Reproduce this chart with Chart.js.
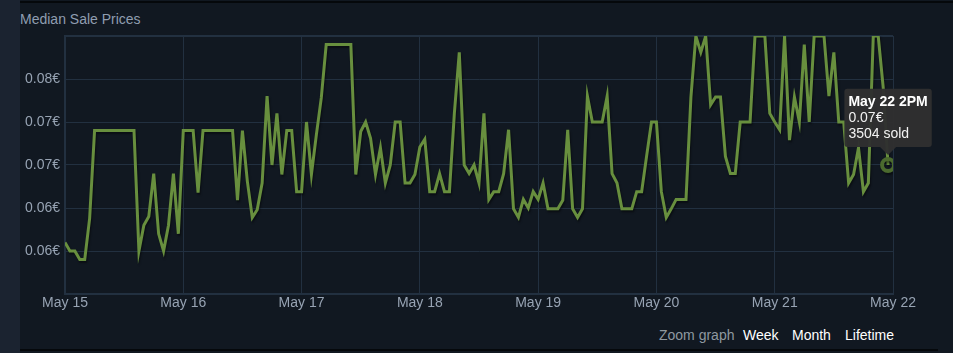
<!DOCTYPE html>
<html>
<head>
<meta charset="utf-8">
<script src="https://cdn.jsdelivr.net/npm/chart.js@4/dist/chart.umd.min.js"></script>
<style>
    html, body {
        margin: 0;
        padding: 0;
        width: 953px;
        height: 353px;
        overflow: hidden;
        background: #1b2330;
        font-family: "Liberation Sans", Arial, sans-serif;
    }
    #panel {
        position: absolute;
        left: 20px;
        top: 0;
        width: 933px;
        height: 353px;
        background: #111821;
    }
    #topLine {
        position: absolute;
        left: 20px;
        top: 1px;
        width: 933px;
        height: 2px;
        background: #05080b;
    }
    #bottomLine {
        position: absolute;
        left: 20px;
        top: 349px;
        width: 918px;
        height: 2px;
        background: #05080b;
    }
    #title {
        position: absolute;
        left: 20px;
        top: 11px;
        font-size: 14px;
        line-height: 16px;
        color: #8f9db0;
    }
    #chartBox {
        position: absolute;
        left: 0;
        top: 0;
        width: 953px;
        height: 322px;
    }
    .zoom {
        position: absolute;
        top: 327px;
        font-size: 14px;
        line-height: 16px;
        color: #ffffff;
    }
</style>
</head>
<body>
<div id="panel"></div>
<div id="topLine"></div>
<div id="bottomLine"></div>
<div id="title">Median Sale Prices</div>
<div id="chartBox"><canvas id="chartPrices" width="953" height="322"></canvas></div>
<span class="zoom" style="left:659px; color:#8f98a0;">Zoom graph</span>
<span class="zoom" style="left:743px;">Week</span>
<span class="zoom" style="left:792px;">Month</span>
<span class="zoom" style="left:845px;">Lifetime</span>

<script>
// day ticks every 24 hours, hourly medians
const xTickLabels = ['May 15', 'May 16', 'May 17', 'May 18', 'May 19', 'May 20', 'May 21', 'May 22'];
const yTickLabels = ['', '0.06€', '0.06€', '0.07€', '0.07€', '0.08€', ''];

const medianPrices = [
    0.061, 0.060, 0.060, 0.059, 0.059, 0.0638, 0.074, 0.074, 0.074, 0.074, 0.074, 0.074, 0.074, 0.074, 0.074, 0.060, 0.063, 0.064, 0.069, 0.062, 0.060, 0.063, 0.069, 0.062,
    0.074, 0.074, 0.074, 0.0668, 0.074, 0.074, 0.074, 0.074, 0.074, 0.074, 0.074, 0.0659, 0.074, 0.0681, 0.0639, 0.0648, 0.0679, 0.078, 0.070, 0.076, 0.0689, 0.074, 0.074, 0.0669,
    0.0669, 0.075, 0.0689, 0.0735, 0.0778, 0.084, 0.084, 0.084, 0.084, 0.084, 0.084, 0.0689, 0.0739, 0.075, 0.0731, 0.0689, 0.072, 0.0679, 0.070, 0.075, 0.075, 0.0679, 0.0679, 0.0689,
    0.0721, 0.073, 0.0669, 0.0669, 0.069, 0.0669, 0.0669, 0.076, 0.0831, 0.070, 0.069, 0.070, 0.0679, 0.076, 0.066, 0.0669, 0.0669, 0.069, 0.0741, 0.0649, 0.0639, 0.066, 0.065, 0.0669,
    0.066, 0.0679, 0.0649, 0.0649, 0.0649, 0.0659, 0.0741, 0.0649, 0.0639, 0.0649, 0.078, 0.075, 0.075, 0.075, 0.078, 0.069, 0.0679, 0.0649, 0.0649, 0.0649, 0.0669, 0.0669, 0.071, 0.075,
    0.075, 0.0669, 0.0639, 0.0649, 0.066, 0.066, 0.066, 0.0779, 0.085, 0.0831, 0.085, 0.077, 0.0779, 0.0779, 0.071, 0.069, 0.069, 0.075, 0.075, 0.075, 0.085, 0.085, 0.085, 0.076,
    0.075, 0.0741, 0.085, 0.0729, 0.0779, 0.075, 0.084, 0.075, 0.085, 0.085, 0.085, 0.078, 0.0831, 0.075, 0.075, 0.0679, 0.0689, 0.072, 0.0669, 0.0679, 0.085, 0.085, 0.0791, 0.070
];

const tooltipTitle = 'May 22 2PM';
const tooltipSold = 3504;
const activeIndex = medianPrices.length - 1;

const gridColor = '#223040';
const tickColor = '#97a3b3';

const lineShadow = {
    id: 'lineShadow',
    beforeDatasetsDraw(chart) {
        const c = chart.ctx;
        c.save();
        c.shadowColor = 'rgba(0,0,0,0.45)';
        c.shadowOffsetX = 1;
        c.shadowOffsetY = 2;
        c.shadowBlur = 2;
    },
    afterDatasetsDraw(chart) {
        chart.ctx.restore();
    }
};

const ctxPrices = document.getElementById('chartPrices').getContext('2d');
const pricesChart = new Chart(ctxPrices, {
    type: 'line',
    data: {
        datasets: [{
            data: medianPrices.map((p, i) => ({x: i, y: p})),
            borderColor: '#688f3e',
            borderWidth: 3,
            tension: 0,
            fill: false,
            pointRadius: 0,
            pointHoverRadius: 6,
            pointHoverBorderWidth: 4,
            pointHoverBorderColor: '#4b6a2e',
            pointHoverBackgroundColor: 'rgba(0,0,0,0)'
        }]
    },
    plugins: [lineShadow],
    options: {
        responsive: false,
        animation: false,
        events: [],
        layout: {padding: {top: 36, right: 60, bottom: 0, left: 0}},
        scales: {
            x: {
                type: 'linear',
                min: 0,
                max: 168,
                afterFit: function (s) { s.height = 28; },
                afterBuildTicks: function (s) {
                    s.ticks = xTickLabels.map((l, i) => ({value: i * 24}));
                },
                ticks: {
                    padding: 1,
                    color: tickColor,
                    font: {family: '"Liberation Sans", Arial', size: 14},
                    maxRotation: 0,
                    autoSkip: false,
                    callback: function (v, i) { return xTickLabels[i]; }
                },
                grid: {color: gridColor, drawTicks: false, lineWidth: 1},
                border: {color: gridColor, width: 2}
            },
            y: {
                min: 0.055,
                max: 0.085,
                afterFit: function (s) { s.width = 65; },
                afterBuildTicks: function (s) {
                    s.ticks = yTickLabels.map((l, i) => ({value: 0.055 + i * 0.005}));
                },
                ticks: {
                    padding: 5,
                    color: tickColor,
                    font: {family: '"Liberation Sans", Arial', size: 14},
                    callback: function (v, i) { return yTickLabels[i]; }
                },
                grid: {
                    color: gridColor,
                    drawTicks: false,
                    lineWidth: function (c) { return c.index === yTickLabels.length - 1 ? 2 : 1; }
                },
                border: {color: gridColor, width: 2}
            }
        },
        plugins: {
            legend: {display: false},
            tooltip: {
                enabled: true,
                yAlign: 'bottom',
                xAlign: 'center',
                backgroundColor: 'rgba(48,48,48,0.97)',
                titleColor: '#ffffff',
                bodyColor: '#f2f2f2',
                titleFont: {family: '"Liberation Sans", Arial', size: 14, weight: 'bold', lineHeight: 1.15},
                bodyFont: {family: '"Liberation Sans", Arial', size: 14, lineHeight: 1.15},
                titleMarginBottom: 0,
                bodySpacing: 0,
                padding: {top: 5, bottom: 5, left: 4, right: 4},
                caretSize: 8,
                caretPadding: 10,
                cornerRadius: 3,
                displayColors: false,
                callbacks: {
                    title: function () { return tooltipTitle; },
                    label: function (item) {
                        return [item.parsed.y.toFixed(2) + '€', tooltipSold + ' sold'];
                    }
                }
            }
        }
    }
});

pricesChart.setActiveElements([{datasetIndex: 0, index: activeIndex}]);
pricesChart.tooltip.setActiveElements([{datasetIndex: 0, index: activeIndex}], {x: 0, y: 0});
pricesChart.update();
</script>
</body>
</html>
